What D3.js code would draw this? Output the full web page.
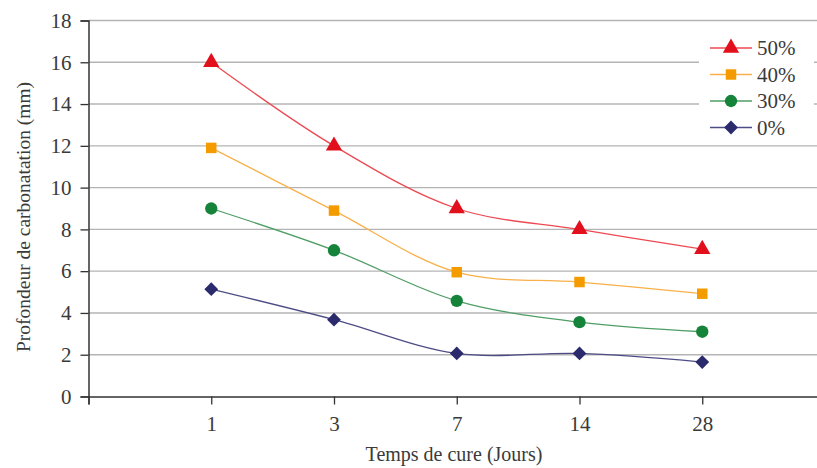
<!DOCTYPE html>
<html><head><meta charset="utf-8">
<script src="https://cdn.jsdelivr.net/npm/d3@7"></script>
<style>body{margin:0;background:#fff}svg{display:block}</style>
</head><body>
<svg id="c" width="817" height="468"></svg>
<script>
const categories = ["1","3","7","14","28"];
const series50 = [16, 12, 9, 8, 7.05];
const series40 = [11.9, 8.9, 5.95, 5.48, 4.92];
const series30 = [9, 7, 4.58, 3.56, 3.1];
const series0 = [5.14, 3.68, 2.06, 2.06, 1.65];
const seriesNames = ["50%","40%","30%","0%"];
const yTicks = [0,2,4,6,8,10,12,14,16,18];

const series = [
  {name:seriesNames[0], values:series50, line:"#ec4a52", fill:"#e2101c", shape:d3.symbolTriangle, size:115, rot:0},
  {name:seriesNames[1], values:series40, line:"#f9b048", fill:"#f49b00", shape:d3.symbolSquare, size:110, rot:0},
  {name:seriesNames[2], values:series30, line:"#4f9e66", fill:"#15833a", shape:d3.symbolCircle, size:120, rot:0},
  {name:seriesNames[3], values:series0, line:"#4d4c86", fill:"#2a2a6c", shape:d3.symbolSquare, size:95, rot:45}
];

const svg = d3.select("#c");
const x = d3.scaleLinear().domain([0, categories.length+1]).range([88.5, 825]);
const y = d3.scaleLinear().domain([0,18]).range([396.5, 20.5]);
const font = "'Liberation Serif', 'Times New Roman', serif";

// gridlines
svg.append("g").selectAll("line").data(yTicks.filter(d=>d>0)).join("line")
  .attr("x1", 88.5).attr("x2", 817).attr("y1", d=>y(d)).attr("y2", d=>y(d))
  .attr("stroke","#b4b4b4").attr("stroke-width",1.4);

// y axis
const ya = svg.append("g").attr("transform","translate(88.5,0)")
  .call(d3.axisLeft(y).tickValues(yTicks).tickSize(8).tickPadding(9));
ya.attr("font-family", font);
ya.select(".domain").attr("stroke","#333").attr("stroke-width",1.5);
ya.selectAll(".tick line").attr("stroke","#333").attr("stroke-width",1.3);
ya.selectAll("text").attr("font-family",font).attr("font-size",21).attr("fill","#3a3a3a");

// x axis
const xa = svg.append("g").attr("transform","translate(0,396.5)")
  .call(d3.axisBottom(x).tickValues(d3.range(0, categories.length+2)).tickSize(8).tickPadding(12)
  .tickFormat(i => (i>=1 && i<=categories.length) ? categories[i-1] : ""));
xa.attr("font-family", font);
xa.select(".domain").attr("stroke","#333").attr("stroke-width",1.5);
xa.selectAll(".tick line").attr("stroke","#333").attr("stroke-width",1.3);
xa.selectAll("text").attr("font-family",font).attr("font-size",21).attr("fill","#3a3a3a");

// axis titles
svg.append("text").attr("transform","translate(23,217) rotate(-90)")
  .attr("text-anchor","middle").attr("dy","0.35em").attr("font-family",font).attr("font-size",19.5).attr("fill","#3a3a3a")
  .text("Profondeur de carbonatation (mm)");
svg.append("text").attr("x",454).attr("y",461)
  .attr("text-anchor","middle").attr("font-family",font).attr("font-size",20).attr("fill","#3a3a3a")
  .text("Temps de cure (Jours)");

// lines
const lineGen = d3.line().x((d,i)=>x(i+1)).y(d=>y(d)).curve(d3.curveCatmullRom.alpha(0.5));
series.forEach(s=>{
  svg.append("path").attr("d", lineGen(s.values)).attr("fill","none")
    .attr("stroke", s.line).attr("stroke-width",1.3);
});
series.forEach(s=>{
  svg.append("g").selectAll("path").data(s.values).join("path")
    .attr("transform",(d,i)=>`translate(${x(i+1)},${y(d)}) rotate(${s.rot})`)
    .attr("d", d3.symbol().type(s.shape).size(s.size)).attr("fill", s.fill);
});

// legend
const lg = svg.append("g");
lg.append("rect").attr("x",699).attr("y",28).attr("width",115).attr("height",114).attr("fill","#fff");
series.forEach((s,i)=>{
  const yy = 48 + i*26.5;
  lg.append("line").attr("x1",710).attr("x2",752).attr("y1",yy).attr("y2",yy).attr("stroke",s.line).attr("stroke-width",1.5);
  lg.append("path").attr("transform",`translate(731,${yy}) rotate(${s.rot})`).attr("d", d3.symbol().type(s.shape).size(s.size)).attr("fill",s.fill);
  lg.append("text").attr("x",757).attr("y",yy).attr("dy","0.35em").attr("font-family",font).attr("font-size",21)
    .attr("fill","#3a3a3a").text(s.name);
});
</script>
</body></html>
